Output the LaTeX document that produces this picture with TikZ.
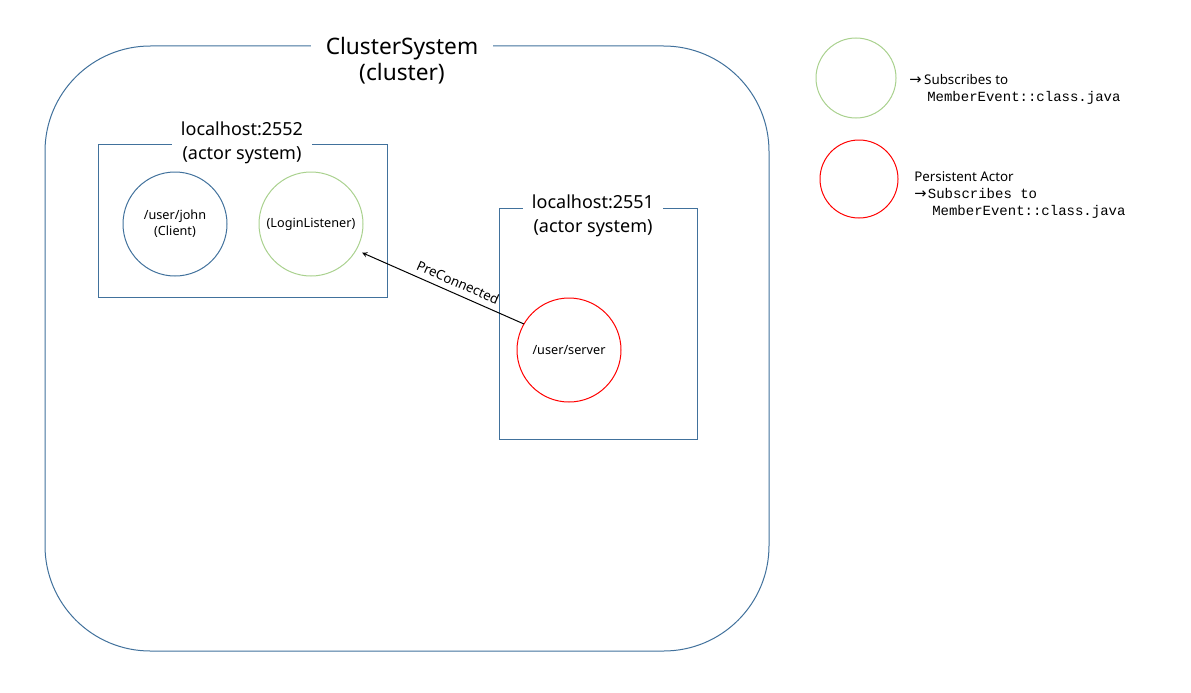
\documentclass[tikz,border=0pt]{standalone}
\usepackage{fontspec}
\setmainfont{Noto Sans}
\newfontfamily\monofont{Liberation Mono}
\newfontfamily\symfont{DejaVu Sans}
\usepackage{xcolor}
\usepackage{tikz}
\usetikzlibrary{shapes,arrows,positioning}
\definecolor{clusterblue}{RGB}{65,113,156}
\definecolor{listengreen}{RGB}{169,209,142}
\definecolor{persistred}{RGB}{255,0,0}

\begin{document}
\begin{tikzpicture}[
    x=0.75pt, y=-0.75pt,
    frame/.style={rectangle, draw=clusterblue, line width=0.75pt, inner sep=0pt, outer sep=0pt},
    title/.style={fill=white, align=center, inner xsep=8pt, inner ysep=0pt},
    actor/.style={circle, draw, line width=0.75pt, inner sep=0pt, outer sep=0pt, minimum size=78pt, align=center, font=\fontsize{9.5}{12}\selectfont},
    legend/.style={anchor=west, align=left, inner sep=0pt, font=\fontsize{10}{12.75}\selectfont},
    arrow/.style={->, >=stealth, line width=0.75pt}
]
\useasboundingbox (0,0) rectangle (1191,692);

% Cluster
\node[frame, rounded corners=79pt, minimum width=543pt, minimum height=453.75pt] (cluster) at (407,348.5) {};
\node[title, inner xsep=11pt, font=\fontsize{17}{19.5}\selectfont] (clustertitle) at (402,61) {ClusterSystem\\(cluster)};

% localhost:2552
\node[frame, minimum width=216.75pt, minimum height=114.75pt] (sys2552) at (242.5,220.5) {};
\node[title, inner xsep=7pt, font=\fontsize{13.5}{18}\selectfont] (title2552) at (242,143) {localhost:2552\\(actor system)};
\node[actor, draw=clusterblue] (john) at (175,224) {/user/john\\(Client)};
\node[actor, draw=listengreen] (login) at (311,224) {(LoginListener)};

% localhost:2551
\node[frame, minimum width=148.5pt, minimum height=173.25pt] (sys2551) at (598,323.5) {};
\node[title, inner xsep=7pt, font=\fontsize{13.5}{18}\selectfont] (title2551) at (593,216) {localhost:2551\\(actor system)};
\node[actor, draw=persistred] (server) at (569,350) {/user/server};

% Message
\draw[arrow, shorten >=5pt] (server.150) -- (login.-30)
    node[pos=0.42, above=1pt, sloped, font=\fontsize{10}{12}\selectfont] (msg) {PreConnected};

% Legend
\node[actor, draw=listengreen, minimum size=60pt] (legendgreen) at (856,78) {};
\node[legend] (legendgreentext) at (909,89.5) {{\symfont\fontsize{11}{12.75}\selectfont→}\hspace{2pt}Subscribes to\\\hspace{13.5pt}{\monofont\fontsize{10.5}{12.75}\selectfont MemberEvent::class.java}};
\node[actor, draw=persistred, minimum size=58.5pt] (legendred) at (859,179) {};
\node[legend] (legendredtext) at (914,195.5) {Persistent Actor\\{\symfont\fontsize{11}{12.75}\selectfont→}\hspace{1pt}{\monofont\fontsize{10.5}{12.75}\selectfont Subscribes to}\\\hspace{13.5pt}{\monofont\fontsize{10.5}{12.75}\selectfont MemberEvent::class.java}};

\end{tikzpicture}
\end{document}
